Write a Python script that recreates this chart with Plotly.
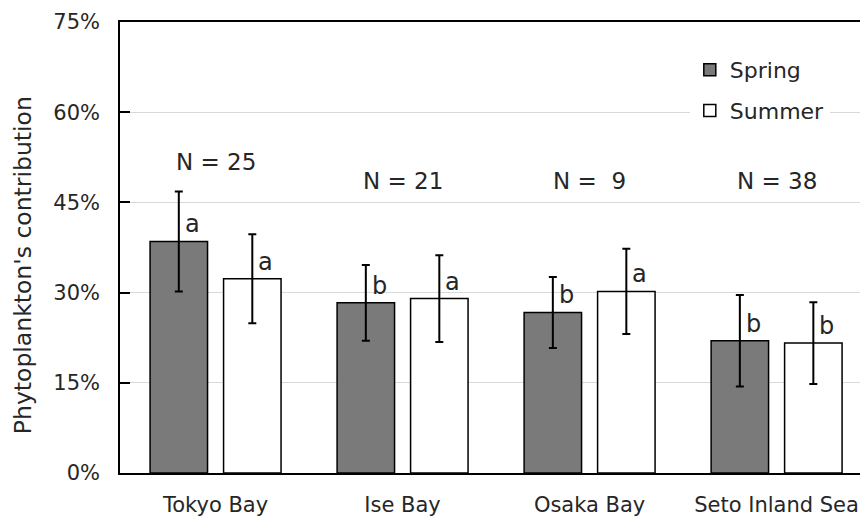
import plotly.graph_objects as go

# ---- data ----
categories = ["Tokyo Bay", "Ise Bay", "Osaka Bay", "Seto Inland Sea"]
spring = [38.5, 28.3, 26.7, 22.0]
summer = [32.3, 29.0, 30.2, 21.6]
spring_err = [8.3, 6.3, 5.9, 7.6]
summer_err = [7.4, 7.2, 7.1, 6.8]
spring_letters = ["a", "b", "b", "b"]
summer_letters = ["a", "a", "a", "b"]
n_values = [25, 21, 9, 38]
y_ticks = [0, 15, 30, 45, 60, 75]

FONT = "DejaVu Sans"
TXT = "#262626"

fig = go.Figure()
fig.add_trace(go.Bar(
    name="Spring", x=categories, y=spring,
    marker=dict(color="#7a7a7a", line=dict(color="black", width=1.5)),
    error_y=dict(type="data", array=spring_err, color="black", thickness=2, width=4),
    legendgroup="g1",
))
fig.add_trace(go.Bar(
    name="Summer", x=categories, y=summer,
    marker=dict(color="white", line=dict(color="black", width=1.5)),
    error_y=dict(type="data", array=summer_err, color="black", thickness=2, width=4),
    legendgroup="g2",
))

annotations = []
half_slot = 36.75
for i, cat in enumerate(categories):
    annotations.append(dict(x=cat, y=spring[i], text=spring_letters[i], showarrow=False,
                            xanchor="left", yanchor="bottom", xshift=-half_slot + 4, yshift=1,
                            font=dict(family=FONT, size=24, color=TXT)))
    annotations.append(dict(x=cat, y=summer[i], text=summer_letters[i], showarrow=False,
                            xanchor="left", yanchor="bottom", xshift=half_slot + 4, yshift=1,
                            font=dict(family=FONT, size=24, color=TXT)))
    n_txt = f"N = {n_values[i]}" if n_values[i] >= 10 else f"N =  {n_values[i]}"
    annotations.append(dict(x=cat, y=51.7 if i == 0 else 48.5, text=n_txt, showarrow=False,
                            xanchor="center", yanchor="middle",
                            font=dict(family=FONT, size=23, color=TXT)))

annotations.append(dict(xref="paper", yref="paper", x=-0.131, y=0.461,
                        text="Phytoplankton's contribution", textangle=-90, showarrow=False,
                        xanchor="center", yanchor="middle",
                        font=dict(family=FONT, size=23.5, color=TXT)))

fig.update_layout(
    width=860, height=517,
    margin=dict(l=120, r=0, t=22, b=42),
    paper_bgcolor="white", plot_bgcolor="white",
    barmode="group", bargap=0.214, bargroupgap=0.218,
    font=dict(family=FONT, color=TXT),
    legend=dict(x=0.77, y=0.94, xanchor="left", yanchor="top",
                bgcolor="white", borderwidth=0, tracegroupgap=9,
                font=dict(family=FONT, size=22, color=TXT)),
    annotations=annotations,
    showlegend=True,
)
fig.update_xaxes(
    range=[-0.511, 3.446], showline=True, linecolor="black", linewidth=1.5,
    mirror=True, ticks="", showgrid=False,
    tickfont=dict(family=FONT, size=21, color=TXT), ticklabelstandoff=12,
)
fig.update_yaxes(
    range=[0, 75], tickvals=y_ticks, ticktext=[f"{v}%" for v in y_ticks],
    showline=True, linecolor="black", linewidth=1.5, mirror=False,
    ticks="inside", ticklen=10, tickcolor="black", tickwidth=1.5,
    showgrid=True, gridcolor="#d9d9d9", gridwidth=1, zeroline=False,
    tickfont=dict(family=FONT, size=21, color=TXT), ticklabelstandoff=14,
)

fig.write_html("out.html", config={"displayModeBar": False},
               post_script="document.body.style.margin='0';document.body.style.overflow='hidden';")
